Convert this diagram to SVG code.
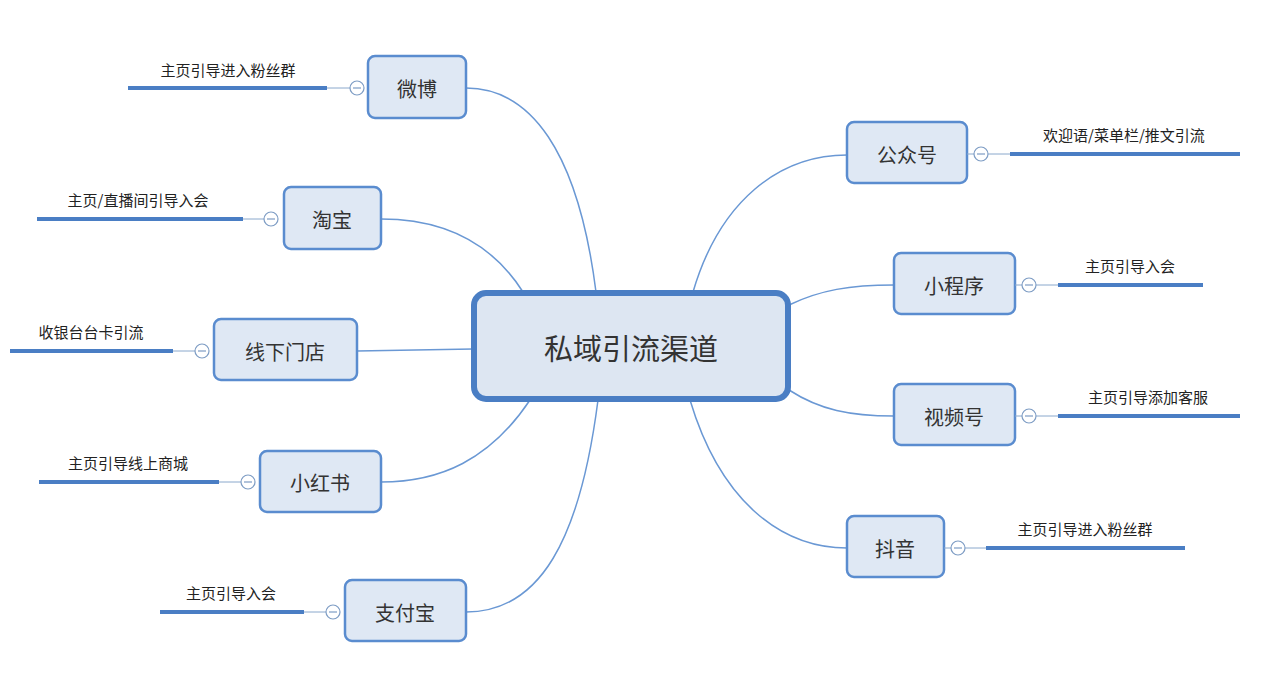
<svg xmlns="http://www.w3.org/2000/svg" width="1262" height="691" viewBox="0 0 1262 691">
<style>
.n{fill:#dfe8f4;stroke:#5a8ccf;stroke-width:2.5}
.t{font-family:"Noto Sans CJK SC",sans-serif;font-size:20px;fill:#333;text-anchor:middle;dominant-baseline:central}
.s{font-family:"Noto Sans CJK SC",sans-serif;font-size:15px;fill:#222;text-anchor:middle}
.c{fill:none;stroke:#6a98d4;stroke-width:1.5}
.k{stroke:#4a7ec4;stroke-width:4}
.h{stroke:#8aa8cc;stroke-width:1}
.o{fill:#fff;stroke:#7d9cc4;stroke-width:1.2}
.m{stroke:#7d9cc4;stroke-width:1.2}
</style>
<rect width="1262" height="691" fill="#fff"/>
<g id="connectors">
<path class="c" d="M596,292 C578,150 530,88 466,88"/>
<path class="c" d="M523,292 C490,240 440,219 381,219"/>
<path class="c" d="M473,349 L357,351"/>
<path class="c" d="M530,400 C490,460 440,482 381,482"/>
<path class="c" d="M598,400 C580,540 540,612 466,612"/>
<path class="c" d="M693,292 C720,200 780,155 847,155"/>
<path class="c" d="M789,305 C820,290 850,285 894,285"/>
<path class="c" d="M789,390 C820,410 850,416 894,416"/>
<path class="c" d="M690,400 C720,500 780,548 847,548"/>
</g>
<g id="center"><rect x="474" y="293" width="314" height="106" rx="12" fill="#dde6f2" stroke="#4a7ec4" stroke-width="6"/><text class="t" x="631" y="347" style="font-size:29px">私域引流渠道</text></g>
<g id="weibo"><line class="k" x1="128" y1="88" x2="327" y2="88"/><line class="h" x1="327" y1="88" x2="350" y2="88"/><circle class="o" cx="357" cy="88" r="7"/><line class="m" x1="353" y1="88" x2="361" y2="88"/><text class="s" x="228" y="76">主页引导进入粉丝群</text><rect class="n" x="368" y="56" width="98" height="62" rx="7"/><text class="t" x="417" y="88">微博</text></g>
<g id="taobao"><line class="k" x1="37" y1="219" x2="243" y2="219"/><line class="h" x1="243" y1="219" x2="264" y2="219"/><circle class="o" cx="271" cy="219" r="7"/><line class="m" x1="267" y1="219" x2="275" y2="219"/><text class="s" x="138" y="206">主页/直播间引导入会</text><rect class="n" x="284" y="187" width="97" height="62" rx="7"/><text class="t" x="332" y="219">淘宝</text></g>
<g id="store"><line class="k" x1="10" y1="351" x2="173" y2="351"/><line class="h" x1="173" y1="351" x2="195" y2="351"/><circle class="o" cx="202" cy="351" r="7"/><line class="m" x1="198" y1="351" x2="206" y2="351"/><text class="s" x="91" y="338">收银台台卡引流</text><rect class="n" x="214" y="319" width="143" height="61" rx="7"/><text class="t" x="285" y="351">线下门店</text></g>
<g id="xhs"><line class="k" x1="39" y1="482" x2="219" y2="482"/><line class="h" x1="219" y1="482" x2="241" y2="482"/><circle class="o" cx="248" cy="482" r="7"/><line class="m" x1="244" y1="482" x2="252" y2="482"/><text class="s" x="128" y="469">主页引导线上商城</text><rect class="n" x="260" y="451" width="121" height="61" rx="7"/><text class="t" x="320" y="482">小红书</text></g>
<g id="alipay"><line class="k" x1="160" y1="612" x2="304" y2="612"/><line class="h" x1="304" y1="612" x2="326" y2="612"/><circle class="o" cx="333" cy="612" r="7"/><line class="m" x1="329" y1="612" x2="337" y2="612"/><text class="s" x="231" y="599">主页引导入会</text><rect class="n" x="345" y="580" width="121" height="61" rx="7"/><text class="t" x="405" y="612">支付宝</text></g>
<g id="gzh"><rect class="n" x="847" y="122" width="120" height="61" rx="7"/><text class="t" x="907" y="154">公众号</text><line class="h" x1="967" y1="154" x2="974" y2="154"/><circle class="o" cx="981" cy="154" r="7"/><line class="m" x1="977" y1="154" x2="985" y2="154"/><line class="h" x1="988" y1="154" x2="1010" y2="154"/><line class="k" x1="1010" y1="154" x2="1240" y2="154"/><text class="s" x="1124" y="141">欢迎语/菜单栏/推文引流</text></g>
<g id="mini"><rect class="n" x="894" y="253" width="121" height="61" rx="7"/><text class="t" x="954" y="285">小程序</text><line class="h" x1="1015" y1="285" x2="1022" y2="285"/><circle class="o" cx="1029" cy="285" r="7"/><line class="m" x1="1025" y1="285" x2="1033" y2="285"/><line class="h" x1="1036" y1="285" x2="1058" y2="285"/><line class="k" x1="1058" y1="285" x2="1203" y2="285"/><text class="s" x="1130" y="272">主页引导入会</text></g>
<g id="sph"><rect class="n" x="894" y="384" width="121" height="61" rx="7"/><text class="t" x="954" y="416">视频号</text><line class="h" x1="1015" y1="416" x2="1022" y2="416"/><circle class="o" cx="1029" cy="416" r="7"/><line class="m" x1="1025" y1="416" x2="1033" y2="416"/><line class="h" x1="1036" y1="416" x2="1058" y2="416"/><line class="k" x1="1058" y1="416" x2="1240" y2="416"/><text class="s" x="1148" y="403">主页引导添加客服</text></g>
<g id="douyin"><rect class="n" x="847" y="516" width="97" height="61" rx="7"/><text class="t" x="895" y="548">抖音</text><line class="h" x1="944" y1="548" x2="951" y2="548"/><circle class="o" cx="958" cy="548" r="7"/><line class="m" x1="954" y1="548" x2="962" y2="548"/><line class="h" x1="965" y1="548" x2="986" y2="548"/><line class="k" x1="986" y1="548" x2="1185" y2="548"/><text class="s" x="1085" y="535">主页引导进入粉丝群</text></g>
</svg>
